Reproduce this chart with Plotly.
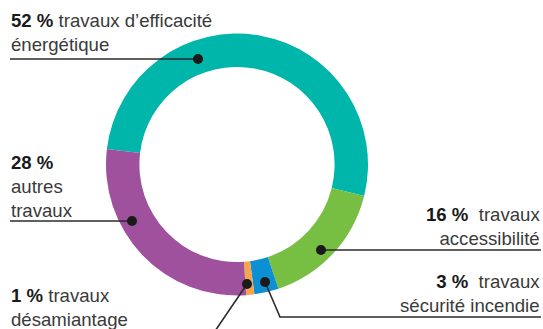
import plotly.graph_objects as go

# ---- data ----
labels = ["travaux d’efficacité énergétique", "travaux accessibilité",
          "travaux sécurité incendie", "travaux désamiantage", "autres travaux"]
values = [52, 16, 3, 1, 28]
colors = ["#00B5AA", "#76BF43", "#0D8FD3", "#F6A54D", "#A0519E"]
pct_text = ["52 %", "16 %", "3 %", "1 %", "28 %"]
name_text = ["travaux d’efficacité<br>énergétique", "travaux<br>accessibilité",
             "travaux<br>sécurité incendie", "travaux<br>désamiantage", "<br>autres<br>travaux"]

W, H = 543, 329
FONT = "Liberation Sans, Arial, sans-serif"
TXT = "#3a3a3a"
LINE = "#2b2b2b"

fig = go.Figure()
fig.add_trace(go.Pie(
    labels=labels, values=values, sort=False, direction="clockwise",
    rotation=-83.25, hole=0.745, textinfo="none", hoverinfo="label+percent",
    marker=dict(colors=colors, line=dict(width=0)), showlegend=False,
    domain=dict(x=[106 / W, 368 / W], y=[1 - 296 / H, 1 - 33 / H]),
))

# callouts: (dot position, leader path) in pixel coordinates of the overlay axes
callouts = [
    dict(dot=(198, 59), path=[(10, 59), (198, 59)]),
    dict(dot=(321, 250), path=[(321, 250), (541, 250)]),
    dict(dot=(265, 282), path=[(265, 282), (280, 317), (541, 317)]),
    dict(dot=(247, 284), path=[(247, 284), (213, 334)]),
    dict(dot=(132, 221), path=[(10, 221), (132, 221)]),
]
shapes = []
for c in callouts:
    pts = c["path"]
    d = "M " + " L ".join(f"{x},{y}" for x, y in pts)
    shapes.append(dict(type="path", path=d, xref="x", yref="y",
                       line=dict(color=LINE, width=1.6), layer="above"))
    x, y = c["dot"]
    r = 5
    shapes.append(dict(type="circle", xref="x", yref="y", x0=x - r, x1=x + r,
                       y0=y - r, y1=y + r, fillcolor="#1a1a1a",
                       line=dict(width=0), layer="above"))

# label placements
label_pos = [
    dict(x=9, y=32, xa="left", al="left"),
    dict(x=542, y=226.5, xa="right", al="right"),
    dict(x=542, y=293.5, xa="right", al="right"),
    dict(x=9, y=307.5, xa="left", al="left"),
    dict(x=9, y=186, xa="left", al="left"),
]
annotations = []
for i, p in enumerate(label_pos):
    nt = name_text[i]
    b = f"<b style='color:#1a1a1a'>{pct_text[i]}</b>"
    if nt.startswith("<br>"):
        txt = b + nt
    elif p["al"] == "right":
        txt = b + "  " + nt
    else:
        txt = b + " " + nt
    annotations.append(dict(x=p["x"], y=p["y"], xref="x", yref="y", text=txt,
                            showarrow=False, xanchor=p["xa"], yanchor="middle",
                            align=p["al"], font=dict(family=FONT, size=18.6, color=TXT)))

fig.update_layout(
    width=W, height=H, margin=dict(l=0, r=0, t=0, b=0),
    paper_bgcolor="white", plot_bgcolor="white",
    xaxis=dict(range=[0, W], visible=False, fixedrange=True, domain=[0, 1]),
    yaxis=dict(range=[H, 0], visible=False, fixedrange=True, domain=[0, 1]),
    shapes=shapes, annotations=annotations, showlegend=False,
)
fig.write_html("out.html", config={"displayModeBar": False},
               post_script="document.body.style.margin='0';document.body.style.overflow='hidden';")
